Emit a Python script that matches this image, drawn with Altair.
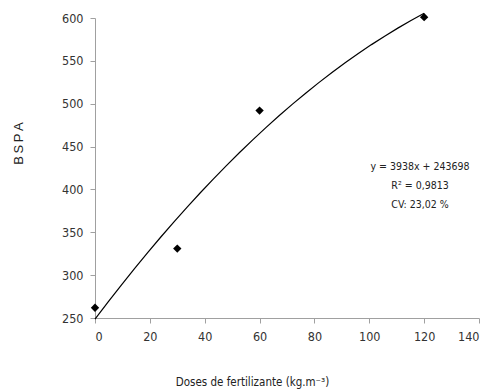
import altair as alt
import pandas as pd

# Data
doses = [0, 30, 60, 120]
bspa = [262, 331, 492, 601]

x_ticks = [0, 20, 40, 60, 80, 100, 120, 140]
y_ticks = [250, 300, 350, 400, 450, 500, 550, 600]

ann_lines = ["y = 3938x + 243698", "R² = 0,9813", "CV: 23,02 %"]
ann_x = [118.5]
ann_y = [426]

df = pd.DataFrame({"x": doses, "y": bspa})
ann = pd.DataFrame({"x": ann_x, "y": ann_y, "t": [ann_lines]})

FONT = "'DejaVu Sans Condensed', 'Liberation Sans', sans-serif"

xscale = alt.Scale(domain=[0, 140], nice=False, zero=False)
yscale = alt.Scale(domain=[250, 600], nice=False, zero=False)

xaxis = alt.Axis(
    values=x_ticks, title="Doses de fertilizante (kg.m⁻³)", grid=False,
    domainColor="#a0a0a0", tickColor="#a0a0a0", tickSize=5,
    labelFont=FONT, labelFontSize=12.5, labelColor="#333333", labelPadding=7,
    titleFont=FONT, titleFontSize=11.5, titleFontWeight="normal", titleColor="#222222",
    titleX=157, titleY=64, titleAlign="center", titleBaseline="middle",
)
yaxis = alt.Axis(
    values=y_ticks, title="B\u2009S\u2009P\u2009A", grid=False,
    domainColor="#a0a0a0", tickColor="#a0a0a0", tickSize=5,
    labelFont=FONT, labelFontSize=12.5, labelColor="#333333", labelPadding=7,
    titleFont="'Liberation Sans', sans-serif", titleFontSize=13, titleFontWeight="normal",
    titleColor="#222222", titleAngle=270, titleX=-77, titleY=125,
    titleAlign="center", titleBaseline="middle",
)

base = alt.Chart(df)

points = base.mark_point(shape="diamond", filled=True, color="black", size=70, opacity=1).encode(
    x=alt.X("x:Q", scale=xscale, axis=xaxis),
    y=alt.Y("y:Q", scale=yscale, axis=yaxis),
)

fit = base.transform_regression("x", "y", method="poly", order=2).mark_line(
    color="black", strokeWidth=1.2
).encode(
    x=alt.X("x:Q", scale=xscale),
    y=alt.Y("y:Q", scale=yscale),
)

text = alt.Chart(ann).mark_text(
    font=FONT, fontSize=10.5, color="#222222", align="center", baseline="middle", lineHeight=19
).encode(
    x=alt.X("x:Q", scale=xscale),
    y=alt.Y("y:Q", scale=yscale),
    text="t",
)

chart = alt.layer(fit, points, text).properties(
    width=384, height=300,
    padding={"left": 95, "top": 18, "right": 14, "bottom": 74},
    autosize=alt.AutoSizeParams(type="none"),
    background="white",
).configure_view(stroke=None)

chart.save("out.html", embed_options={"renderer": "svg", "actions": False})
